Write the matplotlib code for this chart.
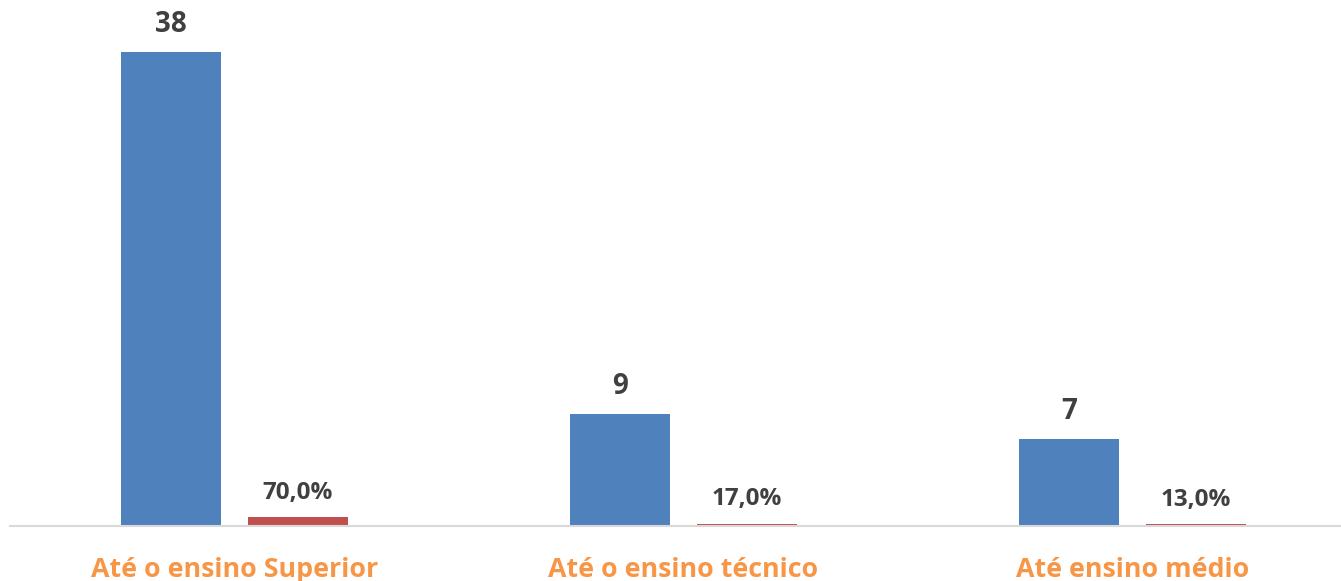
import matplotlib
matplotlib.use("Agg")
import matplotlib.pyplot as plt
import numpy as np

categories = ["Até o ensino Superior", "Até o ensino técnico", "Até ensino médio"]
counts = [38, 9, 7]
shares = [0.70, 0.17, 0.13]

BLUE = "#4F81BD"
RED = "#C0504D"
ORANGE = "#F79646"
TEXT = "#404040"

plt.rcParams["font.family"] = ["Open Sans", "DejaVu Sans"]

W, H = 1341, 581
fig = plt.figure(figsize=(W / 100, H / 100), dpi=100)
ax = fig.add_axes([10 / W, (H - 526) / H, (W - 10) / W, 526 / H])

x = np.arange(len(categories))
width = 100 / 449
off = 63.5 / 449

ax.bar(x - off, counts, width, color=BLUE)
ax.bar(x + off, shares, width, color=RED)

for xi, v in zip(x, counts):
    ax.annotate(f"{v}", (xi - off, v), xytext=(0, 9), textcoords="offset points",
                ha="center", va="bottom", fontsize=20, fontweight="bold", color=TEXT)
for xi, v in zip(x, shares):
    ax.annotate(f"{v * 100:.1f}%".replace(".", ","), (xi + off, v), xytext=(0, 9),
                textcoords="offset points", ha="center", va="bottom",
                fontsize=17.5, fontweight="bold", color=TEXT)

ax.set_xlim(-0.5, -0.5 + (W - 10) / 449)
ax.set_ylim(0, 526 / (474 / 38))
ax.set_xticks(x)
ax.set_xticklabels(categories, fontsize=19.3, fontweight="bold", color=ORANGE)
ax.tick_params(axis="x", length=0, pad=22)
ax.set_yticks([])
for s in ["top", "right", "left"]:
    ax.spines[s].set_visible(False)
ax.spines["bottom"].set_color("#D9D9D9")
ax.spines["bottom"].set_linewidth(1.5)

fig.savefig("out.png", dpi=100)
